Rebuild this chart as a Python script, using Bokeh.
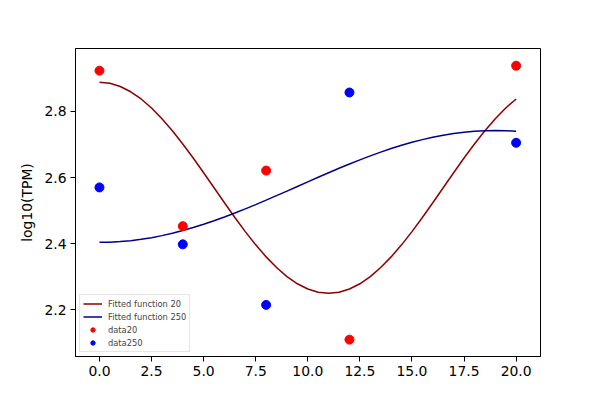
from bokeh.plotting import figure
from bokeh.models import Range1d, FixedTicker, PrintfTickFormatter, Legend
from bokeh.embed import file_html
from bokeh.resources import INLINE

# measured data points
t_data = [0, 4, 8, 12, 20]
data20 = [2.923, 2.453, 2.621, 2.110, 2.938]
data250 = [2.570, 2.398, 2.215, 2.857, 2.705]

# fitted curves at half-unit steps
t_fit = [i * 0.5 for i in range(41)]
fit20 = [2.888, 2.8848, 2.8751, 2.8592, 2.8374, 2.8101, 2.7779, 2.7415, 2.7015, 2.6589,
         2.6144, 2.569, 2.5236, 2.4791, 2.4365, 2.3965, 2.3601, 2.3279, 2.3006, 2.2788,
         2.2629, 2.2532, 2.250, 2.2532, 2.2629, 2.2788, 2.3006, 2.3279, 2.3601, 2.3965,
         2.4365, 2.4791, 2.5236, 2.569, 2.6144, 2.6589, 2.7015, 2.7415, 2.7779, 2.8101,
         2.8374]
fit250 = [2.404, 2.4046, 2.4063, 2.4092, 2.4132, 2.4182, 2.4244, 2.4315, 2.4396, 2.4487,
          2.4585, 2.4692, 2.4806, 2.4926, 2.5051, 2.5181, 2.5315, 2.5452, 2.5590, 2.573,
          2.5870, 2.6008, 2.6145, 2.6279, 2.6409, 2.6534, 2.6654, 2.6768, 2.6875, 2.6973,
          2.7064, 2.7145, 2.7216, 2.7278, 2.7328, 2.7368, 2.7397, 2.7414, 2.742, 2.7414,
          2.7397]

x_ticks = [0, 2.5, 5, 7.5, 10, 12.5, 15, 17.5, 20]
y_ticks = [2.2, 2.4, 2.6, 2.8]

FONT = "DejaVu Sans"

p = figure(width=592, height=392, output_backend="svg", toolbar_location=None,
           x_range=Range1d(-1.15, 21.17), y_range=Range1d(2.059, 2.990),
           min_border_left=75, min_border_right=52, min_border_top=48, min_border_bottom=36)
p.background_fill_color = "white"
p.border_fill_color = "white"
p.outline_line_color = "black"
p.outline_line_width = 1
p.outline_line_alpha = 1
p.xgrid.visible = False
p.ygrid.visible = False

for ax in (p.xaxis[0], p.yaxis[0]):
    ax.axis_line_color = "black"
    ax.major_tick_line_color = "black"
    ax.major_tick_out = 5
    ax.major_tick_in = 0
    ax.minor_tick_line_color = None
    ax.major_label_text_font = FONT
    ax.major_label_text_font_size = "13.9px"
    ax.major_label_text_color = "black"
    ax.major_label_standoff = 4

p.xaxis.ticker = FixedTicker(ticks=x_ticks)
p.yaxis.ticker = FixedTicker(ticks=y_ticks)
p.xaxis.formatter = PrintfTickFormatter(format="%.1f")
p.yaxis.formatter = PrintfTickFormatter(format="%.1f")

p.yaxis.axis_label = "log10(TPM)"
p.yaxis.axis_label_text_font = FONT
p.yaxis.axis_label_text_font_size = "13.9px"
p.yaxis.axis_label_text_font_style = "normal"
p.yaxis.axis_label_text_color = "black"
p.yaxis.axis_label_standoff = 6

r1 = p.line(t_fit, fit20, line_color="darkred", line_width=1.5)
r2 = p.line(t_fit, fit250, line_color="darkblue", line_width=1.5)
r3 = p.scatter(t_data, data20, size=9, fill_color="red", line_color="red")
r4 = p.scatter(t_data, data250, size=9, fill_color="blue", line_color="blue")

legend = Legend(items=[("Fitted function 20", [r1]), ("Fitted function 250", [r2]),
                       ("data20", [r3]), ("data250", [r4])],
                location="bottom_left")
legend.label_text_font = FONT
legend.label_text_font_size = "8.3px"
legend.label_height = 10
legend.glyph_height = 11
legend.glyph_width = 19
legend.label_standoff = 6
legend.spacing = 2
legend.padding = 3
legend.margin = 4
legend.border_line_color = "#cccccc"
legend.border_line_width = 1
legend.background_fill_alpha = 0.8
p.add_layout(legend)

open("out.html", "w").write(file_html(p, INLINE))
